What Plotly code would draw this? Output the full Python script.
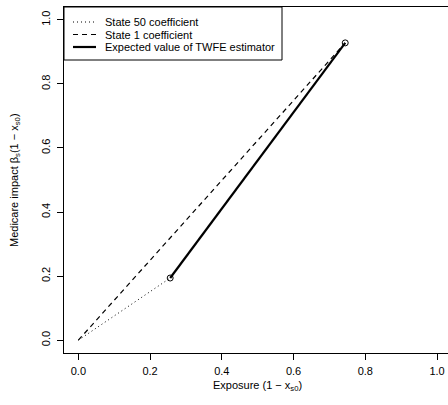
import plotly.graph_objects as go

# Data
state50_x = [0.0, 0.256]
state50_y = [0.0, 0.194]
state1_x = [0.0, 0.744]
state1_y = [0.0, 0.928]
twfe_x = [0.256, 0.744]
twfe_y = [0.194, 0.928]
tick_vals = [0.0, 0.2, 0.4, 0.6, 0.8, 1.0]
tick_text = ["0.0", "0.2", "0.4", "0.6", "0.8", "1.0"]
legend_labels = ["State 50 coefficient", "State 1 coefficient",
                 "Expected value of TWFE estimator"]

FONT = "Liberation Sans, Arial, Helvetica, sans-serif"
DOT = "1px,3px"
DASH = "5px,4px"

fig = go.Figure()
fig.add_trace(go.Scatter(x=state50_x, y=state50_y, mode="lines",
                         line=dict(color="black", width=1, dash=DOT),
                         name=legend_labels[0], showlegend=False))
fig.add_trace(go.Scatter(x=state1_x, y=state1_y, mode="lines",
                         line=dict(color="black", width=1.2, dash=DASH),
                         name=legend_labels[1], showlegend=False))
fig.add_trace(go.Scatter(x=twfe_x, y=twfe_y, mode="lines",
                         line=dict(color="black", width=2.2),
                         name=legend_labels[2], showlegend=False))
fig.add_trace(go.Scatter(x=twfe_x, y=twfe_y, mode="markers",
                         marker=dict(symbol="circle-open", size=6,
                                     color="black", line=dict(width=1)),
                         showlegend=False))

# Plot area geometry (pixels) for the hand-drawn legend box
L, T, W, H = 64, 7, 384, 346
def px(x):
    return (x - L) / W
def py(y):
    return (T + H - y) / H

shapes = [dict(type="rect", xref="paper", yref="paper",
               x0=0, x1=px(282), y0=py(60), y1=1,
               line=dict(color="black", width=1), fillcolor="white", layer="above")]
styles = [dict(width=1, dash=DOT), dict(width=1.2, dash=DASH), dict(width=2.2, dash="solid")]
rows = [22, 34.5, 47]
annotations = []
for lab, st, r in zip(legend_labels, styles, rows):
    shapes.append(dict(type="line", xref="paper", yref="paper",
                       x0=px(73), x1=px(96), y0=py(r), y1=py(r),
                       line=dict(color="black", **st), layer="above"))
    annotations.append(dict(text=lab, xref="paper", yref="paper",
                            x=px(103), y=py(r), xanchor="left", yanchor="middle",
                            showarrow=False, font=dict(size=11)))

annotations.append(dict(text="Exposure (1 − x<sub>s0</sub>)", xref="paper", yref="paper",
                        x=px(257), y=py(386), xanchor="center", yanchor="middle",
                        showarrow=False, font=dict(size=11)))
annotations.append(dict(text="Medicare impact β<sub>s</sub>(1 − x<sub>s0</sub>)",
                        xref="paper", yref="paper", textangle=-90,
                        x=px(15), y=py(180), xanchor="center", yanchor="middle",
                        showarrow=False, font=dict(size=11)))

fig.update_layout(
    width=448, height=405,
    margin=dict(l=L, r=0, t=T, b=405 - T - H),
    paper_bgcolor="white", plot_bgcolor="white",
    font=dict(family=FONT, size=11, color="black"),
    showlegend=False, hovermode=False,
    shapes=shapes, annotations=annotations,
    xaxis=dict(range=[-0.04, 1.0305], tickvals=tick_vals, ticktext=tick_text,
               showgrid=False, zeroline=False, showline=True, mirror=True,
               linecolor="black", linewidth=1, ticks="outside", ticklen=6,
               tickcolor="black", automargin=False, ticklabelstandoff=2),
    yaxis=dict(range=[-0.04, 1.04], tickvals=tick_vals, ticktext=tick_text,
               showgrid=False, zeroline=False, showline=True,
               linecolor="black", linewidth=1, ticks="outside", ticklen=6,
               tickcolor="black", tickangle=-90, automargin=False,
               ticklabelstandoff=3),
)

fig.write_html("out.html", config={"displayModeBar": False, "staticPlot": True},
               post_script="document.body.style.margin='0';document.body.style.overflow='hidden';")
